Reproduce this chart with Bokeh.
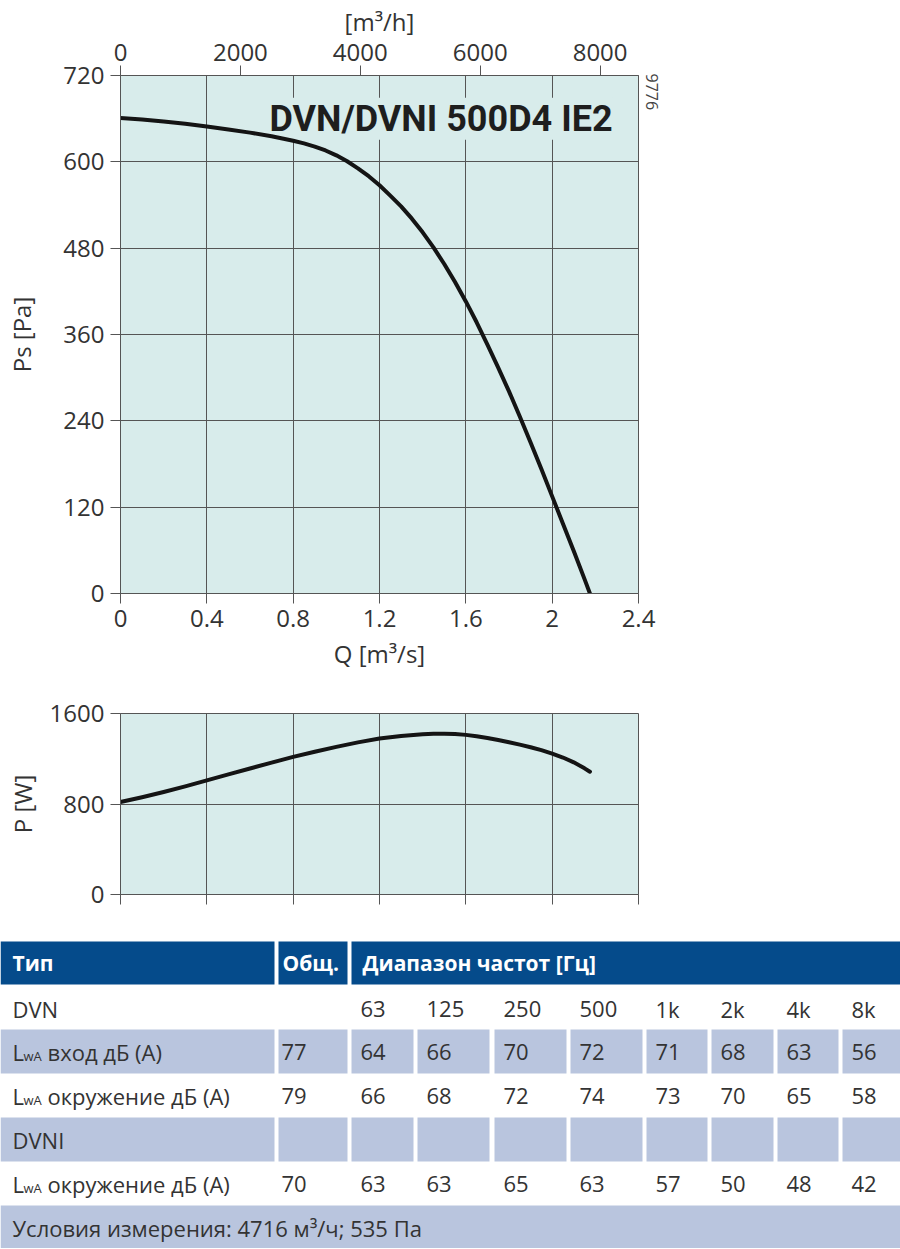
import math
from bokeh.plotting import figure
from bokeh.models import Range1d, LinearAxis, FixedTicker, CustomJSTickFormatter, Label, Title
from bokeh.embed import file_html
from bokeh.resources import INLINE
from bokeh.core.properties import value

# ---------------- data ----------------
# static pressure curve
q_ps = [0.0, 0.1, 0.2, 0.3, 0.4, 0.5, 0.6, 0.7, 0.8, 0.85, 0.9, 0.95, 1.0, 1.05, 1.1, 1.15,
        1.2, 1.25, 1.3, 1.35, 1.4, 1.45, 1.5, 1.55, 1.6, 1.65, 1.7, 1.75, 1.8, 1.85, 1.9,
        1.95, 2.0, 2.05, 2.1, 2.15, 2.175]
ps_pa = [661, 659, 656, 653, 649, 645, 640.6, 635.5, 629.3, 625.6, 621.2, 615.8, 609, 600.8, 591, 580,
         567.5, 553, 538, 521, 502, 481, 458, 433, 406, 377, 346, 314, 281, 246, 210,
         173, 135, 97, 59, 20, 0]

# power curve
q_pw = [0.0, 0.1, 0.2, 0.3, 0.4, 0.5, 0.6, 0.7, 0.8, 0.9, 1.0, 1.1, 1.2, 1.3, 1.4, 1.45,
        1.5, 1.55, 1.6, 1.65, 1.7, 1.75, 1.8, 1.85, 1.9, 1.95, 2.0, 2.05, 2.1, 2.15, 2.175]
p_w = [818, 860, 906, 956, 1009, 1062, 1114, 1166, 1216, 1262, 1305, 1345, 1379, 1402, 1416, 1420,
       1422, 1419, 1411, 1399, 1384, 1366, 1346, 1325, 1302, 1276, 1246, 1211, 1168, 1115, 1085]

q_ticks = [0, 0.4, 0.8, 1.2, 1.6, 2, 2.4]
ps_ticks = [0, 120, 240, 360, 480, 600, 720]
p_ticks = [0, 800, 1600]
flow_h_ticks = [0, 2000, 4000, 6000, 8000]
Q_MAX = 2.4
PS_MAX = 720
P_MAX = 1600
M3S_TO_M3H = 3600

title_text = "DVN/DVNI 500D4 IE2"
chart_id = "9776"

# table
header_labels = ["Тип", "Общ.", "Диапазон частот [Гц]"]
band_labels = ["63", "125", "250", "500", "1k", "2k", "4k", "8k"]
model_dvn = "DVN"
model_dvni = "DVNI"
row_inlet = "вход дБ (A)"
row_surround = "окружение дБ (A)"
lwa_main = "L"
lwa_sub = "wA"
dvn_inlet_total = 77
dvn_inlet = [64, 66, 70, 72, 71, 68, 63, 56]
dvn_surround_total = 79
dvn_surround = [66, 68, 72, 74, 73, 70, 65, 58]
dvni_surround_total = 70
dvni_surround = [63, 63, 65, 63, 57, 50, 48, 42]
conditions_text = "Условия измерения: 4716 м³/ч; 535 Па"

# ---------------- styles ----------------
BG = "#d8eceb"
GRID = "#555555"
TXT = "#333333"
FONT = "Open Sans"
TICK_SIZE = "24px"
CURVE = "#141414"
HEAD_BLUE = "#054b8b"
ROW_FILL = "#b9c5de"


def style_axis(ax, standoff, label_standoff=5):
    ax.axis_line_color = GRID
    ax.axis_line_width = 1
    ax.major_tick_line_color = GRID
    ax.major_tick_out = 10
    ax.major_tick_in = 0
    ax.minor_tick_line_color = None
    ax.major_label_text_font = FONT
    ax.major_label_text_font_size = TICK_SIZE
    ax.major_label_text_color = TXT
    ax.major_label_standoff = standoff
    ax.axis_label_text_font = FONT
    ax.axis_label_text_font_size = TICK_SIZE
    ax.axis_label_text_font_style = "normal"
    ax.axis_label_text_color = TXT
    ax.axis_label_standoff = label_standoff


# ---------------- top chart: Ps vs Q ----------------
p1 = figure(frame_width=518, frame_height=518,
            min_border_left=120, min_border_right=262, min_border_top=75, min_border_bottom=90,
            x_range=Range1d(0, Q_MAX), y_range=Range1d(0, PS_MAX),
            toolbar_location=None, tools="", output_backend="svg",
            background_fill_color=BG, border_fill_color="white",
            outline_line_color=GRID, outline_line_width=1)
p1.extra_x_ranges = {"mh": Range1d(0, Q_MAX * M3S_TO_M3H)}

p1.xaxis.ticker = FixedTicker(ticks=q_ticks)
p1.xaxis.formatter = CustomJSTickFormatter(code="return tick.toString();")
p1.xaxis.axis_label = "Q [m³/s]"
style_axis(p1.xaxis[0], 6, 7)

p1.yaxis.ticker = FixedTicker(ticks=ps_ticks)
p1.yaxis.axis_label = "Ps [Pa]"
style_axis(p1.yaxis[0], 6, 22)

top_ax = LinearAxis(x_range_name="mh", ticker=FixedTicker(ticks=flow_h_ticks),
                    axis_label="[m³/h]")
style_axis(top_ax, 5, 3)
p1.add_layout(top_ax, "above")

p1.add_layout(Title(text=chart_id, align="left", text_font=FONT, text_font_size="16px",
                    text_font_style="normal", text_color="#444444", standoff=14, offset=-2),
              "right")

p1.grid.grid_line_color = GRID
p1.grid.grid_line_width = 1
p1.grid.grid_line_alpha = 1.0

p1.add_layout(Label(x=2.28, y=660, text=title_text, text_align="right", text_baseline="middle",
                    text_font="Roboto", text_font_style="bold", text_font_size="36px",
                    text_color="#1e1e1e", background_fill_color=BG, level="underlay"))

p1.line(q_ps, ps_pa, line_width=4, line_color=CURVE, line_join="round", line_cap="round")

# ---------------- bottom chart: P vs Q ----------------
p2 = figure(frame_width=518, frame_height=181,
            min_border_left=120, min_border_right=262, min_border_top=30, min_border_bottom=31,
            x_range=Range1d(0, Q_MAX), y_range=Range1d(0, P_MAX),
            toolbar_location=None, tools="", output_backend="svg",
            background_fill_color=BG, border_fill_color="white",
            outline_line_color=GRID, outline_line_width=1)
p2.xaxis.ticker = FixedTicker(ticks=q_ticks)
p2.xaxis.formatter = CustomJSTickFormatter(code="return '';")
style_axis(p2.xaxis[0], 0)
p2.yaxis.ticker = FixedTicker(ticks=p_ticks)
p2.yaxis.axis_label = "P [W]"
style_axis(p2.yaxis[0], 6, 8)
p2.grid.grid_line_color = GRID
p2.grid.grid_line_width = 1
p2.grid.grid_line_alpha = 1.0
p2.line(q_pw, p_w, line_width=4, line_color=CURVE, line_join="round", line_cap="round")

# ---------------- table ----------------
COL_L = [0, 278, 351, 417, 494, 570, 646, 711, 777, 842]
COL_R = [274, 347, 413, 489, 566, 642, 707, 773, 838, 900]
HEAD_L = [0, 278, 351]
HEAD_R = [274, 347, 900]
HEAD_TOP, HEAD_BOT = 941, 984
ROWS = [(988, 1028), (1029, 1073), (1073, 1117), (1117, 1161), (1161, 1205), (1205, 1249)]
PAD = [11] + [3] + [9] * 8

p3 = figure(width=900, height=323, x_range=Range1d(0, 900), y_range=Range1d(1248, 925),
            x_axis_type=None, y_axis_type=None, toolbar_location=None, tools="",
            output_backend="svg", min_border=0, outline_line_color=None,
            background_fill_color="white", border_fill_color="white")
p3.grid.visible = False

# header
p3.quad(left=HEAD_L, right=HEAD_R, top=[HEAD_TOP] * 3, bottom=[HEAD_BOT] * 3,
        fill_color=HEAD_BLUE, line_color=None)
hc = (HEAD_TOP + HEAD_BOT) / 2
p3.text(x=[HEAD_L[0] + 12, HEAD_L[1] + 4, HEAD_L[2] + 11], y=[hc] * 3, text=header_labels,
        text_font=value(FONT), text_font_style="bold", text_font_size="21px",
        text_color="white", text_baseline="middle")

# filled rows
fl, fr, ft, fb = [], [], [], []
for ri in (1, 3):
    t, b = ROWS[ri]
    for l, r in zip(COL_L, COL_R):
        fl.append(l); fr.append(r); ft.append(t); fb.append(b)
t, b = ROWS[5]
fl.append(0); fr.append(900); ft.append(t); fb.append(b)
p3.quad(left=fl, right=fr, top=ft, bottom=fb, fill_color=ROW_FILL, line_color=None)

# cell texts
tx, ty, tt = [], [], []


def center(ri):
    return (ROWS[ri][0] + ROWS[ri][1]) / 2


def add_band_row(ri, total, vals):
    if total is not None:
        tx.append(COL_L[1] + PAD[1]); ty.append(center(ri)); tt.append(str(total))
    for k, v in enumerate(vals):
        tx.append(COL_L[2 + k] + PAD[2 + k]); ty.append(center(ri)); tt.append(str(v))


tx.append(COL_L[0] + 12); ty.append(center(0)); tt.append(model_dvn)
add_band_row(0, None, band_labels)
add_band_row(1, dvn_inlet_total, dvn_inlet)
add_band_row(2, dvn_surround_total, dvn_surround)
tx.append(COL_L[0] + 12); ty.append(center(3)); tt.append(model_dvni)
add_band_row(4, dvni_surround_total, dvni_surround)
tx.append(COL_L[0] + 12); ty.append(center(5)); tt.append(conditions_text)

p3.text(x=tx, y=ty, text=tt, text_font=value(FONT), text_font_size="22px",
        text_color=TXT, text_baseline="middle")

# L_wA labels
lwa_rows = [1, 2, 4]
lwa_rest = [row_inlet, row_surround, row_surround]
ly = [center(r) for r in lwa_rows]
p3.text(x=[COL_L[0] + 12] * 3, y=ly, text=[lwa_main] * 3, text_font=value(FONT),
        text_font_size="22px", text_color=TXT, text_baseline="middle")
p3.text(x=[COL_L[0] + 12] * 3, y=ly, text=[lwa_sub] * 3, text_font=value(FONT),
        text_font_size="13px", text_color=TXT, text_baseline="middle",
        x_offset=11, y_offset=4)
p3.text(x=[COL_L[0] + 12] * 3, y=ly, text=lwa_rest, text_font=value(FONT),
        text_font_size="22px", text_color=TXT, text_baseline="middle", x_offset=35)

open("out.html", "w").write(file_html([p1, p2, p3], INLINE))
